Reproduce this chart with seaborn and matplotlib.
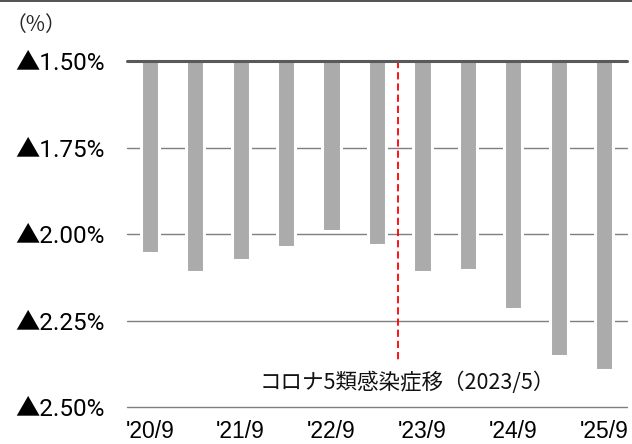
import matplotlib
matplotlib.use("Agg")
import matplotlib.pyplot as plt
from matplotlib.patches import Rectangle
import seaborn as sns
import pandas as pd

# Half-year periods and values (%), negative = ▲
periods = ["'20/9", "'21/3", "'21/9", "'22/3", "'22/9", "'23/3",
           "'23/9", "'24/3", "'24/9", "'25/3", "'25/9"]
values = [-2.055, -2.109, -2.075, -2.038, -1.992, -2.033,
          -2.109, -2.104, -2.216, -2.352, -2.394]
y_ticks = [-1.50, -1.75, -2.00, -2.25, -2.50]
y_tick_labels = ["▲1.50%", "▲1.75%", "▲2.00%", "▲2.25%", "▲2.50%"]
event_label = "コロナ5類感染症移（2023/5）"

df = pd.DataFrame({"period": periods, "value": values})

sns.set_theme(style="white")
plt.rcParams["font.family"] = ["Liberation Sans", "Noto Sans CJK JP", "DejaVu Sans"]

fig = plt.figure(figsize=(6.32, 4.44), dpi=100)
ax = fig.add_axes([127 / 632, 1 - 407 / 444, 500 / 632, 346 / 444])

# horizontal reference lines behind the bars
for yv in y_ticks[1:]:
    ax.axhline(yv, color="#7f7f7f", lw=1.0, zorder=0, clip_on=False)

sns.barplot(data=df, x="period", y="value", color="#ababab", saturation=1,
            width=0.40, edgecolor="white", linewidth=2.2, ax=ax, zorder=2)

# baseline at the top
ax.axhline(-1.5, color="#595959", lw=2.2, zorder=5, clip_on=False)

# event marker between '23/3 and '23/9
ax.plot([5.47, 5.47], [-1.5, -2.373], color="#ff0000", lw=1.3,
        ls=(0, (4, 2.2)), zorder=4)
ax.text(5.66, -2.43, event_label, ha="center", va="center", fontsize=15.5,
        family=["Noto Sans CJK JP", "DejaVu Sans"], color="#111111")

ax.set_xlim(-0.5, len(periods) - 0.5)
ax.set_ylim(-2.5, -1.5)
ax.set_yticks(y_ticks)
ax.set_yticklabels(y_tick_labels, fontsize=17.5, color="black",
                   family=["Roboto", "Noto Sans CJK JP"])
ax.set_xticks(range(0, len(periods), 2))
ax.set_xticklabels(periods[::2], fontsize=16.5, color="black")
ax.tick_params(axis="both", length=0)
ax.tick_params(axis="y", pad=16)
ax.tick_params(axis="x", pad=9)
ax.set_xlabel("")
ax.set_ylabel("")
for s in ["top", "right", "left", "bottom"]:
    ax.spines[s].set_visible(False)

fig.text(6 / 632, 1 - 25 / 444, "（%）", fontsize=15, va="center", ha="left",
         family=["Noto Sans CJK JP", "DejaVu Sans"])

# frame line across the top edge of the figure
fig.patches.append(Rectangle((0, 1 - 2 / 444), 1, 2 / 444,
                             transform=fig.transFigure, facecolor="#555555",
                             edgecolor="none", figure=fig))

fig.savefig("out.png", dpi=100)
